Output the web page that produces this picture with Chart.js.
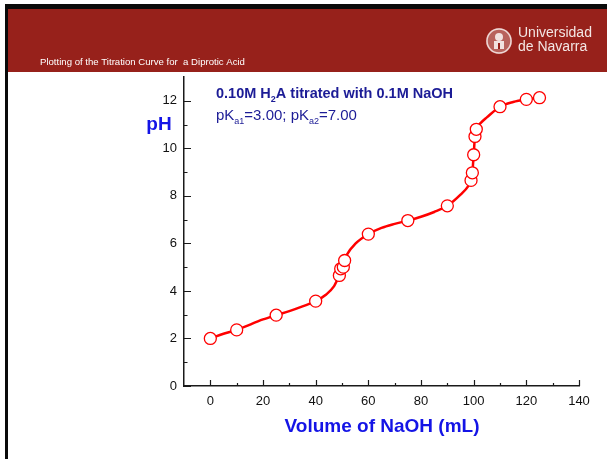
<!DOCTYPE html>
<html>
<head>
<meta charset="utf-8">
<title>Titration Curve for a Diprotic Acid</title>
<script src="https://cdn.jsdelivr.net/npm/chart.js@4/dist/chart.umd.min.js"></script>
<style>
  html, body { margin: 0; padding: 0; background: #ffffff; }
  canvas { display: block; }
</style>
</head>
<body>
<canvas id="chart" width="607" height="459" style="width:607px;height:459px"></canvas>
<script>
// Measured points: volume of NaOH added (mL) and pH
const volumes = [0, 10, 25, 40, 49, 49.5, 50.5, 51, 60, 75, 90, 99, 99.5, 100, 100.5, 101, 110, 120, 125];
const pHValues = [2.0, 2.36, 2.98, 3.57, 4.65, 4.93, 5.0, 5.28, 6.39, 6.96, 7.58, 8.65, 8.97, 9.73, 10.5, 10.8, 11.75, 12.06, 12.13];

// Smooth titration curve
const curveVolumes = [0, 5, 10, 20, 25, 30, 35, 40, 44, 47, 48, 49, 50, 51, 52, 55, 60, 65, 70, 75, 80, 85, 90, 95, 98, 99, 99.5, 100, 100.5, 101, 103, 105, 110, 115, 120, 125];
const curvePH = [2.0, 2.2, 2.36, 2.8, 2.98, 3.15, 3.35, 3.57, 3.85, 4.2, 4.42, 4.65, 4.96, 5.28, 5.55, 5.98, 6.39, 6.65, 6.82, 6.96, 7.12, 7.32, 7.58, 8.05, 8.42, 8.65, 8.97, 9.73, 10.5, 10.8, 11.1, 11.3, 11.75, 11.95, 12.06, 12.13];

// Axis ticks
const xTicks = [0, 10, 20, 30, 40, 50, 60, 70, 80, 90, 100, 110, 120, 130, 140];
const xLabelStep = 20;
const yTicks = [0, 1, 2, 3, 4, 5, 6, 7, 8, 9, 10, 11, 12];
const yLabelStep = 2;

const headerText = 'Plotting of the Titration Curve for  a Diprotic Acid';
const xTitle = 'Volume of NaOH (mL)';
const yTitle = 'pH';

const FONT = '"Liberation Sans", Arial, Helvetica, sans-serif';

// Slide frame, header band and logo
const slidePlugin = {
  id: 'slide',
  beforeDraw(chart) {
    const ctx = chart.ctx;
    ctx.save();
    ctx.fillStyle = '#ffffff';
    ctx.fillRect(0, 0, chart.width, chart.height);
    // header band
    ctx.fillStyle = '#97211b';
    ctx.fillRect(8, 9, chart.width - 8, 63);
    // frame lines
    ctx.fillStyle = '#0a0a0a';
    ctx.fillRect(5, 4, chart.width - 5, 5);
    ctx.fillRect(5, 4, 3, chart.height - 4);
    // header caption
    ctx.fillStyle = '#ffffff';
    ctx.font = '9.6px ' + FONT;
    ctx.textBaseline = 'alphabetic';
    ctx.textAlign = 'left';
    ctx.fillText(headerText, 40, 65);
    // university seal
    const cx = 499, cy = 41, r = 13;
    ctx.fillStyle = '#b8625c';
    ctx.beginPath(); ctx.arc(cx, cy, r, 0, Math.PI * 2); ctx.fill();
    ctx.strokeStyle = '#eed8d6';
    ctx.lineWidth = 1.5;
    ctx.beginPath(); ctx.arc(cx, cy, r - 1, 0, Math.PI * 2); ctx.stroke();
    ctx.fillStyle = '#f1e2e0';
    ctx.beginPath(); ctx.arc(cx, cy - 4, 4, 0, Math.PI * 2); ctx.fill();
    ctx.fillRect(cx - 5, cy, 10, 8);
    ctx.fillStyle = '#97211b';
    ctx.fillRect(cx - 1, cy + 2, 2, 6);
    // university name
    ctx.fillStyle = '#f3e6e4';
    ctx.font = '14px ' + FONT;
    ctx.fillText('Universidad', 518, 37);
    ctx.fillText('de Navarra', 518, 51);
    ctx.restore();
  }
};

// Inward tick marks, axis titles and annotation text
const decorPlugin = {
  id: 'decor',
  afterDraw(chart) {
    const ctx = chart.ctx;
    const xs = chart.scales.x, ys = chart.scales.y;
    const area = chart.chartArea;
    ctx.save();
    ctx.strokeStyle = '#1a1a1a';
    ctx.lineWidth = 1.2;
    ctx.beginPath();
    xTicks.forEach(v => {
      const px = Math.round(xs.getPixelForValue(v)) + 0.5;
      const len = v % xLabelStep === 0 ? 6 : 3;
      ctx.moveTo(px, area.bottom);
      ctx.lineTo(px, area.bottom - len);
    });
    yTicks.forEach(v => {
      const py = Math.round(ys.getPixelForValue(v)) + 0.5;
      const len = v % yLabelStep === 0 ? 7 : 3.5;
      ctx.moveTo(area.left, py);
      ctx.lineTo(area.left + len, py);
    });
    ctx.stroke();

    // axis titles
    ctx.fillStyle = '#1414e6';
    ctx.font = 'bold 19px ' + FONT;
    ctx.textBaseline = 'middle';
    ctx.textAlign = 'center';
    ctx.fillText(xTitle, 382, 427);
    ctx.fillText(yTitle, 159, 125);

    // annotation with subscripts
    ctx.fillStyle = '#1c1c96';
    ctx.textAlign = 'left';
    ctx.textBaseline = 'alphabetic';
    const runs = (parts, x, y) => {
      parts.forEach(p => {
        ctx.font = p.font;
        ctx.fillText(p.t, x, y + (p.dy || 0));
        x += ctx.measureText(p.t).width;
      });
    };
    const b = 'bold 14.5px ' + FONT, bs = 'bold 9px ' + FONT;
    runs([{t: '0.10M H', font: b}, {t: '2', font: bs, dy: 4}, {t: 'A titrated with 0.1M NaOH', font: b}], 216, 98);
    const n = '15px ' + FONT, ns = '9px ' + FONT;
    runs([{t: 'pK', font: n}, {t: 'a1', font: ns, dy: 4}, {t: '=3.00; pK', font: n}, {t: 'a2', font: ns, dy: 4}, {t: '=7.00', font: n}], 216, 120);
    ctx.restore();
  }
};

new Chart(document.getElementById('chart'), {
  type: 'line',
  data: {
    datasets: [
      {
        label: 'markers',
        data: volumes.map((v, i) => ({x: v, y: pHValues[i]})),
        showLine: false,
        pointRadius: 6,
        pointBackgroundColor: '#ffffff',
        pointBorderColor: '#ff0000',
        pointBorderWidth: 1.3,
        order: 0
      },
      {
        label: 'curve',
        data: curveVolumes.map((v, i) => ({x: v, y: curvePH[i]})),
        borderColor: '#ff0000',
        borderWidth: 2.5,
        pointRadius: 0,
        cubicInterpolationMode: 'monotone',
        fill: false,
        order: 1
      }
    ]
  },
  options: {
    responsive: false,
    animation: false,
    devicePixelRatio: 1,
    layout: { padding: { top: 77, right: 28, left: 0, bottom: 0 } },
    plugins: { legend: { display: false }, tooltip: { enabled: false } },
    scales: {
      x: {
        type: 'linear',
        min: -10, max: 140,
        afterBuildTicks(scale) { scale.ticks = xTicks.map(v => ({value: v})); },
        afterFit(scale) { scale.height = 73; },
        grid: { display: false, drawTicks: false },
        border: { display: true, color: '#1a1a1a', width: 1.5 },
        ticks: {
          autoSkip: false, maxRotation: 0, padding: 8,
          color: '#111111', font: { family: FONT, size: 13 },
          callback: v => (v % xLabelStep === 0 ? String(v) : '')
        }
      },
      y: {
        type: 'linear',
        min: 0, max: 13,
        afterBuildTicks(scale) { scale.ticks = yTicks.map(v => ({value: v})); },
        afterFit(scale) { scale.width = 184; },
        grid: { display: false, drawTicks: false },
        border: { display: true, color: '#1a1a1a', width: 1.5 },
        ticks: {
          autoSkip: false, padding: 7,
          color: '#111111', font: { family: FONT, size: 13 },
          callback: v => (v % yLabelStep === 0 ? String(v) : '')
        }
      }
    }
  },
  plugins: [slidePlugin, decorPlugin]
});
</script>
</body>
</html>
